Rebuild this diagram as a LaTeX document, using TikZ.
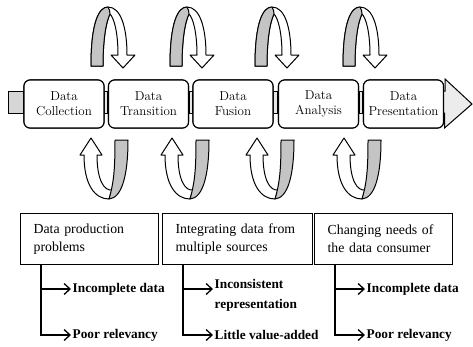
\documentclass[tikz,border=0pt]{standalone}
\usepackage{fontspec}
\newfontfamily\tnr{Liberation Serif}
\usetikzlibrary{arrows.meta}
\definecolor{ribbon}{HTML}{C4C4C4}
\definecolor{stubgrey}{HTML}{D6D6D6}
\definecolor{tubegrey}{HTML}{E6E6E6}
\definecolor{headgrey}{HTML}{ECECEC}
\begin{document}
\begin{tikzpicture}[x=1pt,y=-1pt,
  stage/.style={draw=black, line width=1.1pt, rounded corners=6pt, fill=white,
    minimum width=80pt, minimum height=48pt, inner sep=0pt, align=center,
    font=\fontsize{13}{15}\selectfont},
  tube/.style={draw=black, line width=1pt},
  pbox/.style={draw=black, line width=1.3pt, anchor=north west, minimum height=51pt,
    inner xsep=12pt, inner ysep=0pt, align=left,
    font=\tnr\fontsize{13.8}{18}\selectfont},
  item/.style={inner xsep=1.5pt, inner ysep=0pt, align=left,
    font=\tnr\bfseries\fontsize{13.3}{20}\selectfont},
  treearrow/.style={draw=black, line width=1.3pt, -{Straight Barb[length=6pt,width=11pt]}},
  loopline/.style={draw=black, line width=1pt, line join=round},
  toploop/.pic={
    \path[loopline, fill=white] (0,66) .. controls (0,22) and (8,7) .. (17,7)
      .. controls (30,7) and (36,28) .. (36,55) -- (44,55) -- (32,68) -- (20,55) -- (27,55)
      .. controls (27,32) and (23,18) .. (19,14)
      .. controls (15,22) and (12,40) .. (12,66) -- cycle;
    \path[loopline, fill=ribbon] (0,66) .. controls (0,22) and (8,7) .. (17,7)
      .. controls (18.5,9) and (19,12) .. (19,14)
      .. controls (15,22) and (12,40) .. (12,66) -- cycle;
  },
  botloop/.pic={
    \path[loopline, fill=white] (-6,155) -- (-10,155) -- (1,138) -- (12,155) -- (7,155)
      .. controls (7,180) and (14,191) .. (22,190) -- (19,199)
      .. controls (5,199) and (-6,185) .. (-6,155) -- cycle;
    \path[loopline, fill=ribbon] (19,199) .. controls (32,198) and (38,175) .. (38,140)
      -- (25,140) .. controls (25,168) and (24,182) .. (19,199) -- cycle;
  }]
\useasboundingbox (0,0) rectangle (473,346);

% stages
\node[stage] (s1) at (64,104) {Data\\Collection};
\node[stage] (s2) at (148.5,104) {Data\\Transition};
\node[stage] (s3) at (233,104) {Data\\Fusion};
\node[stage] (s4) at (318.5,104) {Data\\Analysis};
\node[stage] (s5) at (403.5,104) {Data\\Presentation};

% tube pieces
\coordinate (stubL) at (8,91);
\draw[tube, fill=stubgrey] (stubL) rectangle ([yshift=-9pt]s1.west);
\draw[tube, fill=tubegrey] ([yshift=13pt]s1.east) rectangle ([yshift=-9pt]s2.west);
\draw[tube, fill=tubegrey] ([yshift=13pt]s2.east) rectangle ([yshift=-9pt]s3.west);
\draw[tube, fill=tubegrey] ([yshift=13pt]s3.east) rectangle ([yshift=-9pt]s4.west);
\draw[tube, fill=tubegrey] ([yshift=13pt]s4.east) rectangle ([yshift=-9pt]s5.west);
\coordinate (tip) at (472,104);
\draw[tube, fill=headgrey, line join=miter]
  ([yshift=13pt]s5.east) -- ++(1,0) -- ++(0,-12) -- (tip) -- (444.5,128) -- ++(0,-15) -- ([yshift=-9pt]s5.east);
% redraw stages on top
\node[stage] at (s1) {Data\\Collection};
\node[stage] at (s2) {Data\\Transition};
\node[stage] at (s3) {Data\\Fusion};
\node[stage] at (s4) {Data\\Analysis};
\node[stage] at (s5) {Data\\Presentation};

% loops
\foreach \a in {91,170,255,343} { \pic at (\a,0) {toploop}; }
\foreach \a in {90,171,256,343} { \pic at (\a,0) {botloop}; }

% problem boxes
\node[pbox, minimum width=138pt, text width=112pt] (p1) at (20,213) {Data production\\problems};
\node[pbox, minimum width=150pt, text width=124pt] (p2) at (162,213) {Integrating data from\\multiple sources};
\node[pbox, minimum width=138pt, text width=112pt] (p3) at (314,213) {Changing needs of\\the data consumer};

% items
\node[item, anchor=west] (a1) at (71,289) {Incomplete data};
\node[item, anchor=west] (a2) at (71,335) {Poor relevancy};
\node[item, anchor=north west] (b1) at (213,279) {Inconsistent\\representation};
\node[item, anchor=west] (b2) at (213,335) {Little value-added};
\node[item, anchor=west] (c1) at (365,289) {Incomplete data};
\node[item, anchor=west] (c2) at (365,335) {Poor relevancy};

\coordinate (r1) at ([xshift=21pt]p1.south west);
\coordinate (r2) at ([xshift=21pt]p2.south west);
\coordinate (r3) at ([xshift=21pt]p3.south west);
\draw[treearrow] (r1) |- (a1.west);
\draw[treearrow] (r1) |- (a2.west);
\draw[treearrow] (r2) |- ([yshift=-10pt]b1.north west);
\draw[treearrow] (r2) |- (b2.west);
\draw[treearrow] (r3) |- (c1.west);
\draw[treearrow] (r3) |- (c2.west);
\end{tikzpicture}
\end{document}
